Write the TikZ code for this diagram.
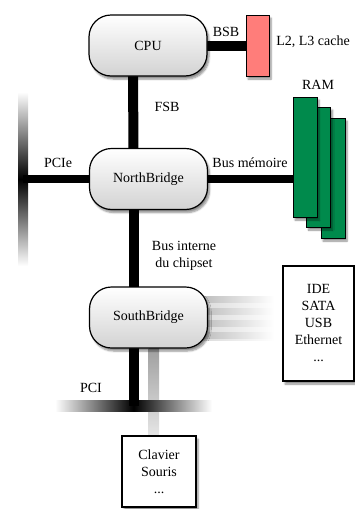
\documentclass[tikz,border=0pt]{standalone}
\usepackage{fontspec}
\setmainfont{Liberation Serif}
\usetikzlibrary{backgrounds,shadows,shadows.blur}
\definecolor{cachered}{RGB}{255,125,122}
\definecolor{ramgreen}{RGB}{0,138,76}
\begin{document}
\begin{tikzpicture}[x=1pt,y=-1pt,
  font=\fontsize{14}{17}\selectfont,
  shad/.style={blur shadow={shadow xshift=2pt, shadow yshift=-3pt, shadow blur steps=6, shadow opacity=45}},
  chip/.style={draw=black, line width=1.2pt, rounded corners=22pt, minimum width=118pt, minimum height=61pt, inner sep=0pt, top color=white, bottom color=gray!35, shad},
  box/.style={draw=black, line width=1.2pt, fill=white, inner sep=0pt, align=center, shad},
  ramstick/.style={draw=black, line width=1pt, fill=ramgreen, minimum width=24pt, minimum height=120pt, inner sep=0pt, shad},
  bus/.style={line width=10pt, black},
  busthin/.style={line width=8pt, black},
  lbl/.style={inner sep=0pt, align=center}]
\useasboundingbox (0,0) rectangle (355,509);

% nodes
\node[chip] (cpu) at (148,45.5) {CPU};
\node[chip] (nb) at (148.5,179) {NorthBridge};
\node[chip] (sb) at (148.5,317.5) {SouthBridge};
\node[draw=black, line width=1pt, fill=cachered, minimum width=23pt, minimum height=61pt, inner sep=0pt, shad] (cache) at (257.5,45.5) {};
\node[ramstick] (ram3) at (333,178) {};
\node[ramstick] (ram2) at (318.5,167) {};
\node[ramstick] (ram1) at (305,157) {};
\node[box, minimum width=71pt, minimum height=115pt] (io) at (318.5,323.5) {IDE\\SATA\\USB\\Ethernet\\...};
\node[box, minimum width=74pt, minimum height=71pt] (kb) at (159,471.5) {Clavier\\Souris\\...};

\coordinate (pcieJ) at (23,179);
\coordinate (pciJ) at (133.5,406);

% labels
\node[lbl] (lbsb) at (226,32) {BSB};
\node[lbl] (lcache) at (313,42) {L2, L3 cache};
\node[lbl] (lram) at (318,85) {RAM};
\node[lbl] (lfsb) at (167,107) {FSB};
\node[lbl] (lpcie) at (58,163) {PCIe};
\node[lbl] (lmem) at (250,163) {Bus mémoire};
\node[lbl] (lint) at (184,256) {Bus interne\\du chipset};
\node[lbl] (lpci) at (91,388) {PCI};

\begin{pgfonlayer}{background}
  % PCIe bus
  \shade[top color=white, bottom color=white, middle color=black] (18,92) rectangle (28,266);
  \draw[busthin] (nb.center) -- (pcieJ);
  % memory bus
  \draw[busthin] (nb.center) -- (nb.center -| ram1.west);
  % BSB
  \draw[bus] (cpu.center) -- (cache.center);
  % FSB
  \draw[bus] ([xshift=-15pt]cpu.center) -- ([xshift=-15pt]nb.center);
  % internal bus
  \draw[bus] ([xshift=-15pt]nb.center) -- ([xshift=-15pt]sb.center);
  % SB -> IO
  \shade[left color=gray!50, right color=white] (sb.center |- 0,296) rectangle (274,340);
  \foreach \yy in {296,308,320,332}
    \shade[left color=gray!90, right color=white] (sb.center |- 0,\yy) rectangle (274,\yy+6.5);
  % SB -> keyboard
  \shade[top color=gray!75, bottom color=gray!20] (sb.south) rectangle (kb.north);
  % PCI bus
  \shade[left color=white, right color=white, middle color=black] (55,400.5) rectangle (212,411.5);
  \draw[bus] ([xshift=-15pt]sb.center) -- (pciJ);
\end{pgfonlayer}
\end{tikzpicture}
\end{document}
